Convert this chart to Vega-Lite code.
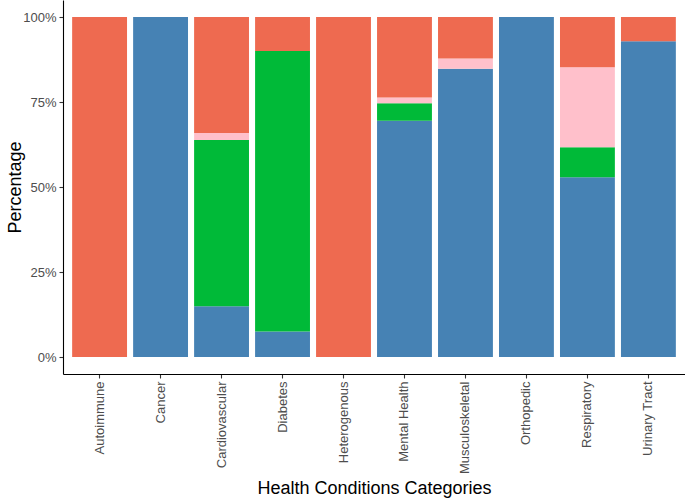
{
  "$schema": "https://vega.github.io/schema/vega-lite/v6.json",
  "width": 622,
  "height": 374,
  "autosize": {"type": "none"},
  "padding": {"left": 63, "top": 0, "right": 0, "bottom": 124},
  "background": "white",
  "data": {
    "values": [
      {"category": "Autoimmune", "group": "Worsened", "value": 100},
      {"category": "Cancer", "group": "Improved", "value": 100},
      {"category": "Cardiovascular", "group": "Improved", "value": 14.9},
      {"category": "Cardiovascular", "group": "Mixed", "value": 48.9},
      {"category": "Cardiovascular", "group": "Neutral", "value": 2.1},
      {"category": "Cardiovascular", "group": "Worsened", "value": 34.1},
      {"category": "Diabetes", "group": "Improved", "value": 7.5},
      {"category": "Diabetes", "group": "Mixed", "value": 82.5},
      {"category": "Diabetes", "group": "Worsened", "value": 10},
      {"category": "Heterogenous", "group": "Worsened", "value": 100},
      {"category": "Mental Health", "group": "Improved", "value": 69.5},
      {"category": "Mental Health", "group": "Mixed", "value": 5.1},
      {"category": "Mental Health", "group": "Neutral", "value": 1.7},
      {"category": "Mental Health", "group": "Worsened", "value": 23.7},
      {"category": "Musculoskeletal", "group": "Improved", "value": 84.8},
      {"category": "Musculoskeletal", "group": "Neutral", "value": 3.0},
      {"category": "Musculoskeletal", "group": "Worsened", "value": 12.2},
      {"category": "Orthopedic", "group": "Improved", "value": 100},
      {"category": "Respiratory", "group": "Improved", "value": 52.9},
      {"category": "Respiratory", "group": "Mixed", "value": 8.8},
      {"category": "Respiratory", "group": "Neutral", "value": 23.5},
      {"category": "Respiratory", "group": "Worsened", "value": 14.8},
      {"category": "Urinary Tract", "group": "Improved", "value": 92.9},
      {"category": "Urinary Tract", "group": "Worsened", "value": 7.1}
    ]
  },
  "mark": {"type": "bar"},
  "encoding": {
    "x": {
      "field": "category",
      "type": "nominal",
      "sort": null,
      "scale": {"paddingInner": 0.1, "paddingOuter": 0.15},
      "axis": {
        "title": "Health Conditions Categories",
        "labelAngle": -90,
        "labelPadding": 3,
        "titleBaseline": "middle",
        "titleY": 114
      }
    },
    "y": {
      "field": "value",
      "type": "quantitative",
      "stack": "zero",
      "scale": {"domain": [-5, 105], "nice": false, "zero": false},
      "axis": {
        "title": "Percentage",
        "values": [0, 25, 50, 75, 100],
        "labelExpr": "datum.value + '%'",
        "labelPadding": 3,
        "titleBaseline": "middle",
        "titleX": -48
      }
    },
    "color": {
      "field": "group",
      "type": "nominal",
      "scale": {
        "domain": ["Improved", "Mixed", "Neutral", "Worsened"],
        "range": ["#4682B4", "#00BA38", "#FFC0CB", "#EE6A50"]
      },
      "legend": null
    },
    "order": {"field": "group", "sort": "ascending"}
  },
  "config": {
    "view": {"stroke": null},
    "font": "Liberation Sans",
    "axis": {
      "grid": false,
      "domainColor": "#000000",
      "domainWidth": 1.1,
      "tickColor": "#333333",
      "tickSize": 4,
      "tickWidth": 1.1,
      "labelColor": "#4D4D4D",
      "labelFontSize": 13,
      "labelFont": "Liberation Sans",
      "titleFont": "Liberation Sans",
      "titleFontSize": 18,
      "titleFontWeight": "normal",
      "titleColor": "#000000"
    }
  }
}
